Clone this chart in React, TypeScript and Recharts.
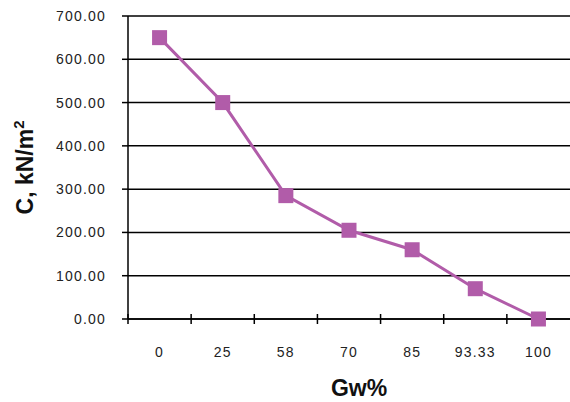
import { LineChart, Line, XAxis, YAxis, CartesianGrid, Label } from "recharts";

const categories = ["0", "25", "58", "70", "85", "93.33", "100"];
const cohesion = [650, 500, 285, 205, 160, 70, 0];
const yTicks = [0, 100, 200, 300, 400, 500, 600, 700];

const data = categories.map((gw, i) => ({ gw, c: cohesion[i] }));

const W = 570;
const H = 402;
const LEFT = 128;
const TOP = 16;
const BOTTOM = 83;
const PLOT_BOTTOM = H - BOTTOM;
const BAND = (W - LEFT) / categories.length;
const PURPLE = "#B15CA9";
const FONT = "'Liberation Sans', Arial, sans-serif";

function XTick(props: any) {
  const { x, payload } = props;
  const bx = x - BAND / 2;
  return (
    <g>
      <line x1={bx} x2={bx} y1={PLOT_BOTTOM - 5} y2={PLOT_BOTTOM + 5} stroke="#000" strokeWidth={1.5} />
      <text
        x={x}
        y={PLOT_BOTTOM + 38}
        textAnchor="middle"
        fontSize={14}
        letterSpacing={1.2}
        fill="#222"
        fontFamily={FONT}
      >
        {payload.value}
      </text>
    </g>
  );
}

function SquareDot(props: any) {
  const { cx, cy, index } = props;
  if (cx == null || cy == null) return <g key={index} />;
  return <rect key={index} x={cx - 7.5} y={cy - 7.5} width={15} height={15} fill={PURPLE} />;
}

export default function App() {
  return (
    <div style={{ position: "absolute", left: 0, top: 0, width: W, height: H, background: "#fff" }}>
      <LineChart width={W} height={H} data={data} margin={{ top: TOP, right: 0, left: 0, bottom: 0 }}>
        <CartesianGrid vertical={false} stroke="#000" strokeWidth={1.5} />
        <XAxis
          dataKey="gw"
          height={BOTTOM}
          padding={{ left: BAND / 2, right: BAND / 2 }}
          axisLine={{ stroke: "#000", strokeWidth: 1.5 }}
          tickLine={false}
          tick={<XTick />}
          interval={0}
        >
          <Label
            content={() => (
              <text
                x={LEFT + (W - LEFT) / 2 + 10}
                y={396}
                textAnchor="middle"
                fontSize={23}
                fontWeight="bold"
                fill="#111"
                fontFamily={FONT}
              >
                Gw%
              </text>
            )}
          />
        </XAxis>
        <YAxis
          width={LEFT}
          domain={[0, 700]}
          ticks={yTicks}
          interval={0}
          axisLine={{ stroke: "#000", strokeWidth: 1.5 }}
          tickLine={{ stroke: "#000", strokeWidth: 1.5 }}
          tickSize={6}
          tickMargin={16}
          tickFormatter={(v: any) => Number(v).toFixed(2)}
          tick={{ fontSize: 14, fill: "#222", fontFamily: FONT, letterSpacing: 1.2 }}
        >
          <Label
            content={() => (
              <text
                x={33}
                y={TOP + (PLOT_BOTTOM - TOP) / 2}
                transform={`rotate(-90, 33, ${TOP + (PLOT_BOTTOM - TOP) / 2})`}
                textAnchor="middle"
                fontSize={23}
                fontWeight="bold"
                fill="#111"
                fontFamily={FONT}
              >
                C, kN/m
                <tspan fontSize={15} dy={-9}>2</tspan>
              </text>
            )}
          />
        </YAxis>
        <Line
          type="linear"
          dataKey="c"
          stroke={PURPLE}
          strokeWidth={3}
          dot={<SquareDot />}
          activeDot={false}
          isAnimationActive={false}
        />
      </LineChart>
    </div>
  );
}
